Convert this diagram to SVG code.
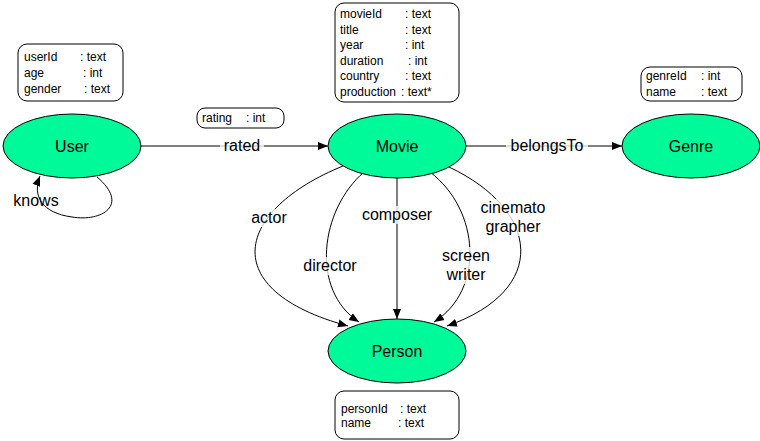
<svg xmlns="http://www.w3.org/2000/svg" width="760" height="441" viewBox="0 0 760 441">
<defs>
<marker id="arr" viewBox="0 0 10 10" refX="10" refY="5" markerWidth="10" markerHeight="10" markerUnits="userSpaceOnUse" orient="auto">
<path d="M0,1 L10,5 L0,9 Z" fill="#000"/>
</marker>
</defs>
<style>
.node{fill:#00fa9a;stroke:#000;stroke-width:1}
.nl{font-family:"Liberation Sans",Arial,sans-serif;font-size:16px;text-anchor:middle;fill:#000}
.el{font-family:"Liberation Sans",Arial,sans-serif;font-size:16px;text-anchor:middle;fill:#000}
.lbg{fill:#fff;opacity:0.75}
.box{fill:#fff;stroke:#000;stroke-width:1}
.at{font-family:"Liberation Sans",Arial,sans-serif;font-size:12px;fill:#000}
.e{fill:none;stroke:#000;stroke-width:1;marker-end:url(#arr)}
</style>
<rect width="760" height="441" fill="#fff"/>
<g id="connectors">
<path class="e" d="M141,146 L328,146"/>
<path class="e" d="M466,146 L622,146"/>
<path class="e" d="M97,177 C130,205 102,222 72,217 C42,213 32,196 40,176"/>
<path class="e" d="M343,166 C235,210 215,290 348,326"/>
<path class="e" d="M364,172 C320,210 310,290 359,322"/>
<path class="e" d="M397,178 L397,319"/>
<path class="e" d="M430,172 C480,210 485,290 434,322"/>
<path class="e" d="M449,167 C540,210 550,290 447,326"/>
<rect class="lbg" x="220" y="137" width="44" height="18"/>
<text class="el" x="242" y="151">rated</text>
<rect class="lbg" x="506" y="137" width="82" height="18"/>
<text class="el" x="547" y="151">belongsTo</text>
<text class="el" x="36" y="206">knows</text>
<rect class="lbg" x="247" y="209" width="44" height="18"/>
<text class="el" x="269" y="223">actor</text>
<rect class="lbg" x="298" y="257" width="64" height="18"/>
<text class="el" x="330" y="271">director</text>
<rect class="lbg" x="356" y="206" width="82" height="18"/>
<text class="el" x="397" y="220">composer</text>
<rect class="lbg" x="439" y="247" width="54" height="37"/>
<text class="el" x="466" y="261">screen</text>
<text class="el" x="466" y="280">writer</text>
<rect class="lbg" x="476" y="199" width="74" height="37"/>
<text class="el" x="513" y="213">cinemato</text>
<text class="el" x="513" y="232">grapher</text>
</g>
<g id="User">
<ellipse class="node" cx="72" cy="146" rx="69" ry="32"/>
<text class="nl" x="72" y="152">User</text>
</g>
<g id="Movie">
<ellipse class="node" cx="397" cy="146" rx="69" ry="32"/>
<text class="nl" x="397" y="152">Movie</text>
</g>
<g id="Genre">
<ellipse class="node" cx="691" cy="146" rx="69" ry="32"/>
<text class="nl" x="691" y="152">Genre</text>
</g>
<g id="Person">
<ellipse class="node" cx="397" cy="351" rx="69" ry="32"/>
<text class="nl" x="397" y="357">Person</text>
</g>
<g id="UserAttrs">
<rect class="box" x="18" y="44" width="105" height="57" rx="9"/>
<text class="at" x="24" y="61">userId</text><text class="at" x="80" y="61">: text</text>
<text class="at" x="24" y="77">age</text><text class="at" x="83" y="77">: int</text>
<text class="at" x="24" y="93">gender</text><text class="at" x="84" y="93">: text</text>
</g>
<g id="MovieAttrs">
<rect class="box" x="335" y="3" width="124" height="99" rx="9"/>
<text class="at" x="340" y="18">movieId</text><text class="at" x="405" y="18">: text</text>
<text class="at" x="340" y="34">title</text><text class="at" x="405" y="34">: text</text>
<text class="at" x="340" y="49">year</text><text class="at" x="405" y="49">: int</text>
<text class="at" x="340" y="65">duration</text><text class="at" x="408" y="65">: int</text>
<text class="at" x="340" y="80">country</text><text class="at" x="405" y="80">: text</text>
<text class="at" x="340" y="96">production</text><text class="at" x="401" y="96">: text*</text>
</g>
<g id="GenreAttrs">
<rect class="box" x="641" y="67" width="101" height="34" rx="9"/>
<text class="at" x="646" y="80">genreId</text><text class="at" x="701" y="80">: int</text>
<text class="at" x="646" y="96">name</text><text class="at" x="701" y="96">: text</text>
</g>
<g id="PersonAttrs">
<rect class="box" x="335" y="391" width="124" height="48" rx="9"/>
<text class="at" x="341" y="413">personId</text><text class="at" x="400" y="413">: text</text>
<text class="at" x="341" y="427">name</text><text class="at" x="398" y="427">: text</text>
</g>
<g id="RatedAttrs">
<rect class="box" x="197" y="108" width="87" height="20" rx="8"/>
<text class="at" x="202" y="122">rating</text><text class="at" x="246" y="122">: int</text>
</g>
</svg>
